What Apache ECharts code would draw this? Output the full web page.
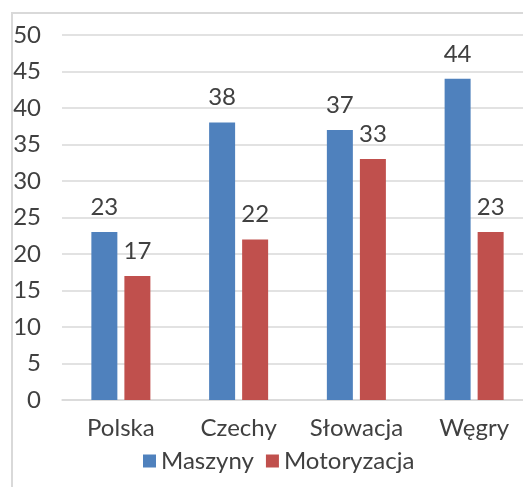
<!DOCTYPE html>
<html>
<head>
<meta charset="utf-8">
<script src="https://cdn.jsdelivr.net/npm/echarts@6/dist/echarts.min.js"></script>
<style>
html, body { margin: 0; padding: 0; background: #fff; }
#wrap { position: relative; width: 523px; height: 487px; overflow: hidden; }
#chart { position: absolute; left: 0; top: 0; width: 523px; height: 487px; }
#ramka { position: absolute; left: 11px; top: 12px; width: 600px; height: 600px; border: 2px solid #d9d9d9; pointer-events: none; }
</style>
</head>
<body>
<div id="wrap">
    <div id="chart"></div>
    <div id="ramka"></div>
</div>
<script>
// dane
let kraje = ['Polska', 'Czechy', 'Słowacja', 'Węgry'];
let maszyny = [23, 38, 37, 44];
let motoryzacja = [17, 22, 33, 23];
let fontName = 'Lato';

let chart = echarts.init(document.getElementById('chart'));

function labelStyle() {
    return {
        show: true,
        position: 'top',
        distance: 13,
        color: '#404040',
        fontSize: 24,
        fontFamily: fontName
    };
}

chart.setOption({
    animation: false,
    grid: { left: 62, top: 35, width: 471, height: 365, outerBoundsMode: 'none', containLabel: false },
    legend: {
        top: 444,
        left: 138,
        itemWidth: 13,
        itemHeight: 13,
        itemGap: 12,
        icon: 'rect',
        textStyle: { color: '#404040', fontSize: 24, fontFamily: fontName },
        data: ['Maszyny', 'Motoryzacja']
    },
    xAxis: {
        type: 'category',
        data: kraje,
        axisLine: { lineStyle: { color: '#d9d9d9', width: 1.5 } },
        axisTick: { show: false },
        axisLabel: { interval: 0, color: '#404040', fontSize: 24, fontFamily: fontName, margin: 16 }
    },
    yAxis: {
        type: 'value',
        min: 0,
        max: 50,
        interval: 5,
        axisLine: { show: false },
        axisTick: { show: false },
        splitLine: { lineStyle: { color: '#d9d9d9', width: 1.5 } },
        axisLabel: { color: '#404040', fontSize: 24, fontFamily: fontName, margin: 21 }
    },
    series: [
        {
            name: 'Maszyny',
            type: 'bar',
            data: maszyny,
            barWidth: 26,
            barGap: '27%',
            itemStyle: { color: '#4f81bd' },
            label: labelStyle()
        },
        {
            name: 'Motoryzacja',
            type: 'bar',
            data: motoryzacja,
            barWidth: 26,
            itemStyle: { color: '#c0504d' },
            label: labelStyle()
        }
    ]
});
</script>
</body>
</html>
